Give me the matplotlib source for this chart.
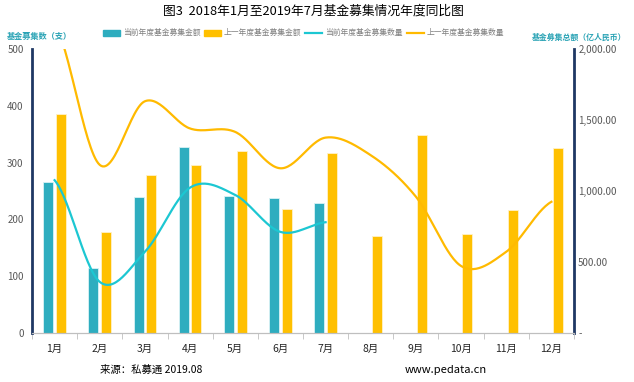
import numpy as np
import matplotlib
matplotlib.use("Agg")
import matplotlib.pyplot as plt

plt.rcParams['font.family'] = ['Noto Sans CJK SC', 'DejaVu Sans']

months = ['1月', '2月', '3月', '4月', '5月', '6月', '7月', '8月', '9月', '10月', '11月', '12月']
cur_amount = [1063, 460, 960, 1312, 967, 949, 913]
prev_amount = [1542, 709, 1110, 1183, 1282, 873, 1268, 681, 1392, 695, 864, 1303]
cur_count = [269, 90, 143, 256, 243, 178, 195]
prev_count = [545, 296, 408, 360, 354, 290, 344, 313, 240, 118, 143, 231]
left_ticks = [0, 100, 200, 300, 400, 500]
right_ticks = [0, 500, 1000, 1500, 2000]
right_labels = ['-', '500.00', '1,000.00', '1,500.00', '2,000.00']

C_CUR_BAR = '#2EADBF'
C_PREV_BAR = '#FFC000'
C_CUR_LINE = '#1CC7D2'
C_PREV_LINE = '#FFBA00'
C_AXIS = '#1F3864'
C_NAME = '#2AA3B5'


def smooth(x, y, n=30):
    x = np.asarray(x, float); y = np.asarray(y, float)
    xs, ys = [], []
    m = len(x)
    for i in range(m - 1):
        p0 = y[i - 1] if i > 0 else y[i]
        p1, p2 = y[i], y[i + 1]
        p3 = y[i + 2] if i + 2 < m else y[i + 1]
        t = np.linspace(0, 1, n, endpoint=False)
        yy = 0.5 * ((2 * p1) + (-p0 + p2) * t + (2 * p0 - 5 * p1 + 4 * p2 - p3) * t ** 2
                    + (-p0 + 3 * p1 - 3 * p2 + p3) * t ** 3)
        xs.append(x[i] + (x[i + 1] - x[i]) * t); ys.append(yy)
    xs.append([x[-1]]); ys.append([y[-1]])
    return np.concatenate(xs), np.concatenate(ys)


fig = plt.figure(figsize=(6.34, 3.82), dpi=100)
W, H = 634, 382
ax = fig.add_axes([32 / W, (H - 333) / H, (574 - 32) / W, (333 - 49) / H])
ax2 = ax.twinx()

x = np.arange(len(months))
bw = 0.22
off = 0.14
ax2.bar(x[:len(cur_amount)] - off, cur_amount, bw, color=C_CUR_BAR, edgecolor='#d8f2f5', linewidth=0.6, zorder=2)
ax2.bar(x + off, prev_amount, bw, color=C_PREV_BAR, edgecolor='#fff2c8', linewidth=0.6, zorder=2)

ax.set_zorder(ax2.get_zorder() + 1)
ax.patch.set_visible(False)
sx, sy = smooth(x[:len(cur_count)], cur_count)
ax.plot(sx, sy, color=C_CUR_LINE, lw=1.6, zorder=3)
sx, sy = smooth(x, prev_count)
ax.plot(sx, sy, color=C_PREV_LINE, lw=1.6, zorder=3)

ax.set_xlim(-0.5, 11.5)
ax.set_ylim(0, 500)
ax2.set_ylim(0, 2000)
ax.set_yticks(left_ticks)
ax.set_yticklabels([str(v) for v in left_ticks], fontsize=7, color='#595959')
ax2.set_yticks(right_ticks)
ax2.set_yticklabels(right_labels, fontsize=7, color='#595959')
ax.tick_params(axis='y', length=0, pad=6)
ax2.tick_params(axis='y', length=0, pad=3)

ax.set_xticks(x)
ax.set_xticklabels(months, fontsize=7.5, color='#262626')
ax.set_xticks(np.arange(-0.5, 12, 1), minor=True)
ax.tick_params(axis='x', which='major', length=0, pad=8)
ax.tick_params(axis='x', which='minor', length=4, color='#BFBFBF')

for a in (ax, ax2):
    a.spines['top'].set_visible(False)
    a.spines['bottom'].set_color('#BFBFBF')
    a.spines['left'].set_color(C_AXIS)
    a.spines['right'].set_color(C_AXIS)
    a.spines['left'].set_linewidth(2)
    a.spines['right'].set_linewidth(2)
ax.spines['right'].set_visible(False)
ax2.spines['left'].set_visible(False)

fig.text(313 / W, 1 - 11 / H, '图3  2018年1月至2019年7月基金募集情况年度同比图', ha='center', va='center',
         fontsize=9.2, color='#000000')
fig.text(7 / W, 1 - 36 / H, '基金募集数（支）', ha='left', va='center', fontsize=5.9, color=C_NAME, weight='bold')
fig.text(626 / W, 1 - 37 / H, '基金募集总额（亿人民币）', ha='right', va='center', fontsize=5.7, color=C_NAME, weight='bold')

# legend
leg_items = [('当前年度基金募集金额', C_CUR_BAR, 'bar'), ('上一年度基金募集金额', C_PREV_BAR, 'bar'),
             ('当前年度基金募集数量', C_CUR_LINE, 'line'), ('上一年度基金募集数量', C_PREV_LINE, 'line')]
lx = [103, 204, 305, 407]
for (lab, col, kind), px in zip(leg_items, lx):
    y0 = 1 - 33 / H
    if kind == 'bar':
        fig.patches.append(plt.Rectangle((px / W, y0 - 3 / H), 17 / W, 6 / H, transform=fig.transFigure,
                                         color=col))
    else:
        fig.lines.append(plt.Line2D([px / W, (px + 17) / W], [y0, y0], transform=fig.transFigure,
                                    color=col, lw=1.6))
    fig.text((px + 20) / W, y0, lab, ha='left', va='center', fontsize=5.6, color='#7F7F7F')

fig.text(100 / W, 1 - 370 / H, '来源：私募通 2019.08', ha='left', va='center', fontsize=7.5, color='#000000')
fig.text(405 / W, 1 - 370 / H, 'www.pedata.cn', ha='left', va='center', fontsize=8, color='#000000')

fig.savefig('out.png', dpi=100)
